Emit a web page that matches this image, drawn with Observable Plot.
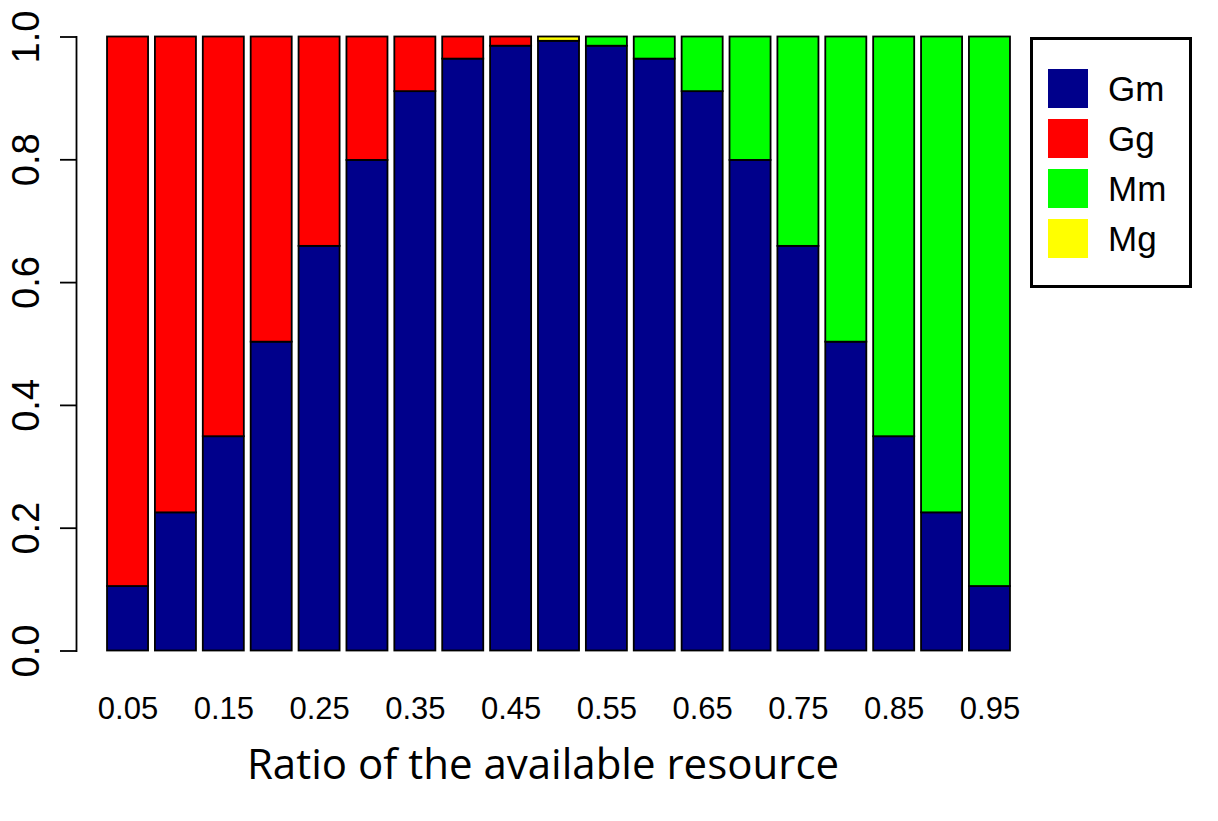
<!DOCTYPE html>
<html>
<head>
<meta charset="utf-8">
<script src="https://cdn.jsdelivr.net/npm/d3@7"></script>
<script src="https://cdn.jsdelivr.net/npm/@observablehq/plot@0.6"></script>
<style>
  body { margin: 0; background: #fff; }
  #wrap { position: relative; width: 1218px; height: 821px; overflow: hidden; }
  #legend { position: absolute; left: 1030px; top: 37px; width: 156px; height: 245px; border: 3px solid #000; background: #fff; font-family: "Liberation Sans", Arial, sans-serif; }
  .item { position: absolute; left: 15px; height: 39px; display: flex; align-items: center; }
  .sw { width: 40px; height: 39px; }
  .lab { margin-left: 20px; font-size: 35px; color: #000; line-height: 39px; }
</style>
</head>
<body>
<div id="wrap"></div>
<script>
// Categories (ratio of the available resource)
const ratios = ["0.05","0.10","0.15","0.20","0.25","0.30","0.35","0.40","0.45","0.50",
                "0.55","0.60","0.65","0.70","0.75","0.80","0.85","0.90","0.95"];
// Series values (proportions)
const Gm = [0.105,0.225,0.349,0.503,0.659,0.799,0.911,0.964,0.985,0.993,
            0.985,0.964,0.911,0.799,0.659,0.503,0.349,0.225,0.105];
const Gg = [0.895,0.775,0.651,0.497,0.341,0.201,0.089,0.036,0.015,0,
            0,0,0,0,0,0,0,0,0];
const Mm = [0,0,0,0,0,0,0,0,0,0,
            0.015,0.036,0.089,0.201,0.341,0.497,0.651,0.775,0.895];
const Mg = [0,0,0,0,0,0,0,0,0,0.007,
            0,0,0,0,0,0,0,0,0];
const seriesNames = ["Gm","Gg","Mm","Mg"];
const seriesColors = ["#00008B","#FF0000","#00FF00","#FFFF00"];
const xTickLabels = ["0.05","0.15","0.25","0.35","0.45","0.55","0.65","0.75","0.85","0.95"];
const yTicks = [0,0.2,0.4,0.6,0.8,1.0];
const xTitle = "Ratio of the available resource";

const seriesVals = {Gm, Gg, Mm, Mg};
const rows = [];
ratios.forEach((r, i) => {
  seriesNames.forEach(s => rows.push({ratio: r, series: s, value: seriesVals[s][i]}));
});

const W = 1218, H = 821;
const plotLeft = 103.6, plotRight = 1013.4, plotTop = 36.5, plotBottom = 650.5;

const chart = Plot.plot({
  width: W,
  height: H,
  marginLeft: plotLeft,
  marginRight: W - plotRight,
  marginTop: plotTop,
  marginBottom: H - plotBottom,
  style: {fontFamily: '"Liberation Sans", Arial, sans-serif', background: "#fff", color: "#000", overflow: "visible"},
  x: {domain: ratios, paddingInner: 0.143, paddingOuter: 0.0715, round: false, label: null},
  y: {domain: [0, 1], label: null},
  color: {domain: seriesNames, range: seriesColors},
  marks: [
    Plot.barY(rows, {x: "ratio", y: "value", z: "series", fill: "series", stroke: "#000", strokeWidth: 1.8}),
    Plot.axisX({ticks: xTickLabels, tickSize: 0, tickPadding: 46, fontSize: 31, label: null}),
    Plot.axisY({ticks: yTicks, tickSize: 16, tickPadding: 22, tickRotate: -90, dx: -27.6, fontSize: 38,
                tickFormat: d3.format(".1f"), strokeWidth: 1.8, label: null}),
    Plot.frame({anchor: "left", dx: -27.6, strokeWidth: 1.8}),
    Plot.text([xTitle], {text: d => d, frameAnchor: "bottom", dx: -16, dy: 127.5, lineAnchor: "bottom",
                         fontSize: 42, fontFamily: '"Open Sans", sans-serif', fill: "#000"})
  ]
});
document.getElementById("wrap").appendChild(chart);

// Legend (top-right, boxed)
const legend = document.createElement("div");
legend.id = "legend";
seriesNames.forEach((s, i) => {
  const it = document.createElement("div");
  it.className = "item";
  it.style.top = (29 + i * 50) + "px";
  const sw = document.createElement("div");
  sw.className = "sw";
  sw.style.background = seriesColors[i];
  const lab = document.createElement("span");
  lab.className = "lab";
  lab.textContent = s;
  it.appendChild(sw); it.appendChild(lab);
  legend.appendChild(it);
});
document.getElementById("wrap").appendChild(legend);
</script>
</body>
</html>
